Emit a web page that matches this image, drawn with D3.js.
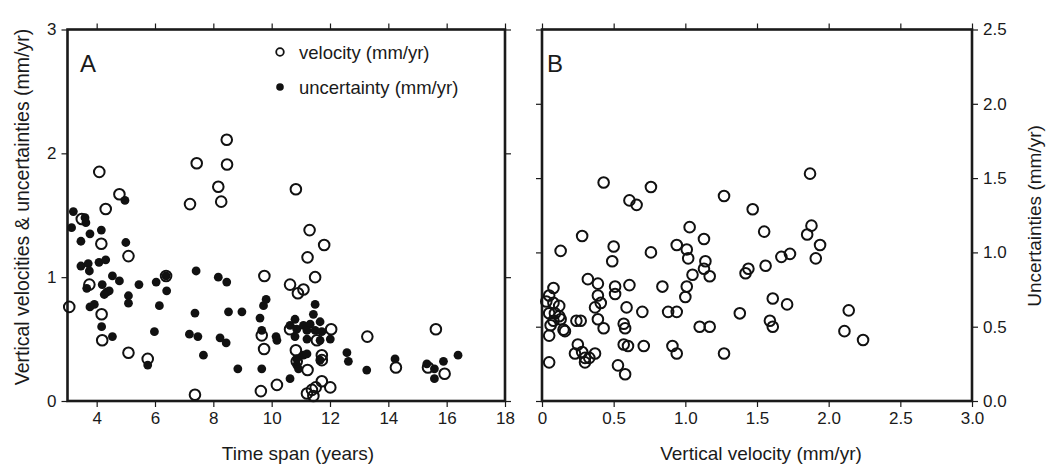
<!DOCTYPE html>
<html><head><meta charset="utf-8">
<script src="https://cdn.jsdelivr.net/npm/d3@7"></script>
<style>body{margin:0;background:#fff}svg{display:block}text{font-family:"Liberation Sans",Arial,Helvetica,sans-serif;fill:#1a1a1a}</style>
</head><body>
<svg id="c" width="1047" height="468"></svg>
<script>
// Panel A: velocity vs time span (open circles)
const spanVel = [4.78,8.46,7.43,8.47,4.09,8.17,10.83,7.20,8.27,4.31,3.49,4.16,5.09,3.75,6.38,3.06,4.17,4.19,5.09,5.75,7.37,
 11.30,11.80,11.23,11.49,9.75,10.63,10.90,11.09,10.63,12.04,9.66,9.74,10.83,10.86,11.23,11.72,11.72,11.55,10.18,9.63,11.72,12.01,11.21,11.38,11.43,11.51,
 13.28,15.63,14.26,15.36,15.93];
const velocity = [1.67,2.11,1.92,1.91,1.85,1.73,1.71,1.59,1.61,1.55,1.47,1.27,1.17,0.94,1.01,0.76,0.70,0.49,0.39,0.34,0.05,
 1.38,1.26,1.16,1.00,1.01,0.94,0.87,0.90,0.58,0.58,0.53,0.42,0.41,0.32,0.25,0.37,0.33,0.49,0.13,0.08,0.16,0.11,0.06,0.09,0.04,0.11,
 0.52,0.58,0.27,0.27,0.22];
// Panel A: uncertainty vs time span (filled dots)
const spanUnc = [4.97,3.20,3.60,3.63,3.14,4.16,3.77,3.46,5.00,3.46,3.71,3.75,4.08,4.31,4.54,4.78,4.19,3.66,4.34,4.43,4.26,5.45,5.09,5.09,
 6.04,6.38,6.40,6.15,7.41,3.77,3.92,4.17,4.54,5.98,5.75,7.37,7.18,7.47,7.66,
 8.17,8.46,8.52,8.98,8.23,8.44,8.84,9.60,9.72,9.81,9.66,9.66,10.15,10.18,10.63,10.86,10.92,
 11.49,11.43,10.80,10.63,10.86,11.09,11.32,11.21,11.66,11.49,11.72,11.21,11.66,12.01,10.80,11.09,11.21,10.86,11.66,12.58,12.63,
 13.26,14.23,15.32,15.58,15.58,15.89,16.39];
const uncertainty = [1.62,1.53,1.48,1.44,1.40,1.38,1.35,1.29,1.28,1.09,1.11,1.05,1.12,1.14,1.01,0.97,0.94,0.91,0.88,0.89,0.86,0.94,0.85,0.79,
 0.96,1.01,0.89,0.77,1.05,0.76,0.78,0.60,0.52,0.56,0.29,0.71,0.54,0.52,0.37,
 1.00,0.96,0.72,0.72,0.51,0.47,0.26,0.67,0.77,0.82,0.57,0.26,0.52,0.49,0.18,0.29,0.26,
 0.78,0.70,0.66,0.61,0.58,0.61,0.62,0.57,0.64,0.57,0.56,0.50,0.49,0.50,0.52,0.37,0.38,0.34,0.33,0.39,0.32,
 0.25,0.34,0.30,0.26,0.18,0.32,0.37];
// Panel B: uncertainty vs vertical velocity
const velB = [0.43,0.76,0.61,0.66,1.27,1.47,1.55,0.28,0.13,0.50,0.49,0.76,1.03,1.13,0.94,1.01,1.02,1.14,1.13,1.17,1.05,
 0.32,0.39,0.39,0.41,0.37,0.39,0.43,0.51,0.51,0.61,0.59,0.70,0.57,0.58,0.84,1.01,1.00,0.88,0.94,1.10,1.17,1.38,1.42,1.44,
 0.57,0.60,0.71,0.91,0.94,1.27,0.53,0.58,
 0.08,0.05,0.03,0.08,0.12,0.05,0.09,0.12,0.13,0.08,0.06,0.15,0.16,0.05,0.05,0.24,0.27,0.25,0.23,0.28,0.30,0.30,0.33,0.37,
 1.87,1.88,1.85,1.94,1.91,1.73,1.67,1.56,1.61,1.71,1.59,1.61,2.14,2.11,2.24];
const uncB = [1.47,1.44,1.35,1.32,1.38,1.29,1.14,1.11,1.01,1.04,0.94,1.00,1.17,1.09,1.05,1.02,0.96,0.94,0.89,0.84,0.85,
 0.82,0.79,0.71,0.66,0.63,0.55,0.49,0.77,0.72,0.78,0.63,0.60,0.52,0.49,0.77,0.77,0.70,0.60,0.60,0.50,0.50,0.59,0.86,0.89,
 0.38,0.37,0.37,0.37,0.32,0.32,0.24,0.18,
 0.76,0.71,0.67,0.66,0.64,0.59,0.59,0.57,0.55,0.54,0.51,0.48,0.47,0.44,0.26,0.54,0.54,0.38,0.32,0.33,0.29,0.26,0.29,0.32,
 1.53,1.18,1.12,1.05,0.96,0.99,0.97,0.91,0.69,0.65,0.54,0.50,0.61,0.47,0.41];
const ticksAx = [4,6,8,10,12,14,16,18];
const ticksAy = [0,1,2,3];
const ticksBx = [0,0.5,1.0,1.5,2.0,2.5,3.0];
const ticksBy = [0,0.5,1.0,1.5,2.0,2.5];

const svg = d3.select("#c");
const yTop = 29.5, yBot = 401;
const xA = d3.scaleLinear().domain([3,18]).range([67.5,505]);
const yA = d3.scaleLinear().domain([0,3]).range([yBot,yTop]);
const xB = d3.scaleLinear().domain([0,3]).range([542,972]);
const yB = d3.scaleLinear().domain([0,2.5]).range([yBot,yTop]);

function styleAxis(g){
  g.select(".domain").remove();
  g.selectAll(".tick line").attr("stroke","#1a1a1a").attr("stroke-width",1.2);
  g.selectAll(".tick text").attr("font-size",17).attr("fill","#1a1a1a").style("font-family",'"Liberation Sans",Arial,sans-serif');
}
function panel(x,y,xt,yt,xfmt,yfmt,yRightLabels){
  svg.append("g").attr("transform",`translate(0,${yBot})`).call(d3.axisBottom(x).tickValues(xt).tickSize(6).tickPadding(5).tickFormat(xfmt)).call(styleAxis);
  svg.append("g").attr("transform",`translate(0,${yTop})`).call(d3.axisTop(x).tickValues(xt).tickSize(6).tickFormat("")).call(styleAxis);
  const x0 = x.range()[0], x1 = x.range()[1];
  svg.append("g").attr("transform",`translate(${x0},0)`).call(d3.axisLeft(y).tickValues(yt).tickSize(6).tickPadding(5).tickFormat(yRightLabels?"":yfmt)).call(styleAxis);
  svg.append("g").attr("transform",`translate(${x1},0)`).call(d3.axisRight(y).tickValues(yt).tickSize(6).tickPadding(5).tickFormat(yRightLabels?yfmt:"")).call(styleAxis);
  svg.append("rect").attr("x",x0).attr("y",yTop).attr("width",x1-x0).attr("height",yBot-yTop)
    .attr("fill","none").attr("stroke","#1a1a1a").attr("stroke-width",2.6);
}
panel(xA,yA,ticksAx,ticksAy,d3.format("d"),d3.format("d"),false);
panel(xB,yB,ticksBx,ticksBy,d=>d===0?"0":d3.format(".1f")(d),d3.format(".1f"),true);

// Panel A points
svg.append("g").selectAll("circle").data(spanUnc.map((t,i)=>[t,uncertainty[i]])).join("circle")
  .attr("cx",d=>xA(d[0])).attr("cy",d=>yA(d[1])).attr("r",4.4).attr("fill","#111");
svg.append("g").selectAll("circle").data(spanVel.map((t,i)=>[t,velocity[i]])).join("circle")
  .attr("cx",d=>xA(d[0])).attr("cy",d=>yA(d[1])).attr("r",5.3).attr("fill","none").attr("stroke","#111").attr("stroke-width",2);
// Panel B points
svg.append("g").selectAll("circle").data(velB.map((v,i)=>[v,uncB[i]])).join("circle")
  .attr("cx",d=>xB(d[0])).attr("cy",d=>yB(d[1])).attr("r",5.3).attr("fill","none").attr("stroke","#111").attr("stroke-width",2);

// Legend
svg.append("circle").attr("cx",280).attr("cy",52).attr("r",3.8).attr("fill","none").attr("stroke","#111").attr("stroke-width",1.8);
svg.append("text").attr("x",299).attr("y",58.5).attr("font-size",18.5).text("velocity (mm/yr)");
svg.append("circle").attr("cx",280).attr("cy",87).attr("r",3.8).attr("fill","#111");
svg.append("text").attr("x",299).attr("y",93.5).attr("font-size",18.5).text("uncertainty (mm/yr)");

// Panel letters
svg.append("text").attr("x",80).attr("y",72).attr("font-size",24).text("A");
svg.append("text").attr("x",547).attr("y",72).attr("font-size",24).text("B");

// Axis titles
svg.append("text").attr("x",298).attr("y",460).attr("text-anchor","middle").attr("font-size",19).text("Time span (years)");
svg.append("text").attr("x",761).attr("y",460).attr("text-anchor","middle").attr("font-size",19).text("Vertical velocity (mm/yr)");
svg.append("text").attr("transform","translate(29,207) rotate(-90)").attr("text-anchor","middle").attr("font-size",19.5).text("Vertical velocities & uncertainties (mm/yr)");
svg.append("text").attr("transform","translate(1041,216) rotate(-90)").attr("text-anchor","middle").attr("font-size",19).text("Uncertainties (mm/yr)");
</script>
</body></html>
